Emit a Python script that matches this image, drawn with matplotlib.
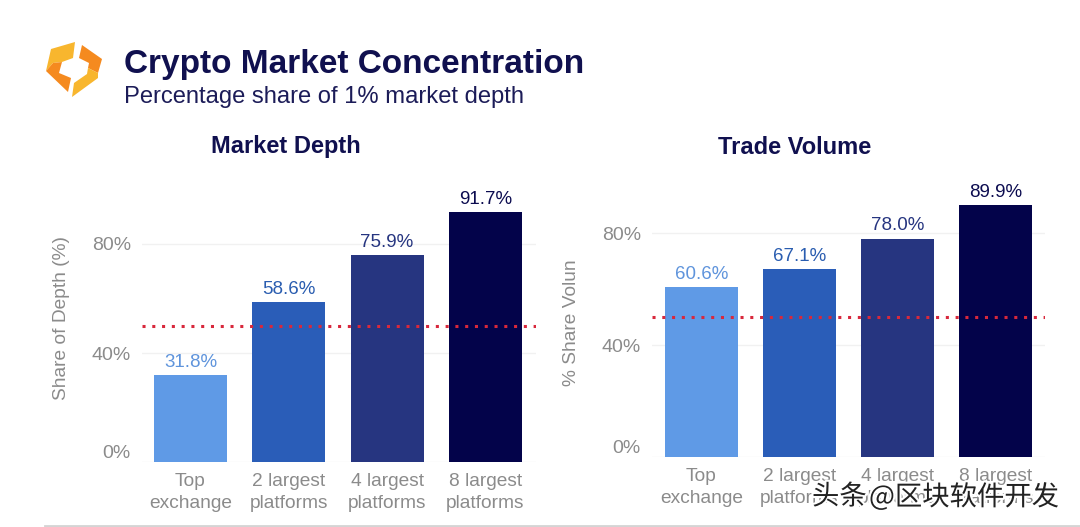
import matplotlib
matplotlib.use('Agg')
import matplotlib.pyplot as plt
import matplotlib.patheffects as pe
from matplotlib.patches import Polygon

W, H = 1080, 527
plt.rcParams['font.family'] = ['Liberation Sans', 'DejaVu Sans']

categories = ['Top\nexchange', '2 largest\nplatforms', '4 largest\nplatforms', '8 largest\nplatforms']
depth_values = [31.8, 58.6, 75.9, 91.7]
volume_values = [60.6, 67.1, 78.0, 89.9]
bar_colors = ['#5f9ae6', '#2a5db8', '#263580', '#03034a']
label_colors = ['#5f94dc', '#2a5db0', '#263580', '#0c0c50']
y_ticks = [0, 40, 80]
threshold = 50

NAVY = '#10104f'
GRAY = '#8b8b8b'
RED = '#d8283c'


def panel(left, right, base, top, px_per_pct, bar_left, step, bar_w, values, title, title_x, ylabel, ylabel_x, ylabel_y):
    # axes placed in pixels, one x unit = one bar step
    ax = fig.add_axes([left / W, 1 - base / H, (right - left) / W, (base - top) / H])
    ax.set_ylim(0, (base - top) / px_per_pct)
    x0 = (bar_left + bar_w / 2 - left) / step
    ax.set_xlim(-x0, (right - left) / step - x0)
    xs = list(range(len(values)))
    ax.bar(xs, values, width=bar_w / step, color=bar_colors, zorder=2)
    for x, v, c in zip(xs, values, label_colors):
        ax.annotate(f'{v:.1f}%', (x, v), xytext=(0, 3), textcoords='offset points',
                    ha='center', va='bottom', fontsize=13.5, color=c)
    ax.axhline(threshold, color=RED, linestyle=(0, (1, 2.2)), linewidth=2.2, zorder=3)
    ax.set_yticks(y_ticks)
    ax.set_yticklabels([f'{t}%' for t in y_ticks], fontsize=14, color=GRAY)
    ax.get_yticklabels()[0].set_va('bottom')
    ax.set_xticks(xs)
    ax.set_xticklabels(categories, fontsize=13.8, color=GRAY, linespacing=1.35)
    ax.tick_params(axis='y', length=0, pad=8)
    ax.tick_params(axis='x', length=0, pad=8)
    ax.grid(axis='y', color='#f1f1f1', linewidth=1, zorder=0)
    for s in ax.spines.values():
        s.set_visible(False)
    fig.text(title_x / W, 1 - 147 / H, title, ha='center', va='center',
             fontsize=17, fontweight='bold', color=NAVY)
    fig.text(ylabel_x / W, 1 - ylabel_y / H, ylabel, rotation=90, ha='center', va='center',
             fontsize=13.8, color=GRAY)
    return ax


fig = plt.figure(figsize=(W / 100, H / 100), dpi=100)

panel(142, 536, 462, 180, 2.725, 154, 98.3, 73, depth_values, 'Market Depth', 286, 'Share of Depth (%)', 62, 318)
panel(652, 1045, 457, 175, 2.80, 665, 98.0, 73, volume_values, 'Trade Volume', 795, '% Share Volun', 572, 323)

# overlay in pixel coordinates for logo, header and the bottom rule
ov = fig.add_axes([0, 0, 1, 1], zorder=5)
ov.set_xlim(0, W)
ov.set_ylim(H, 0)
ov.axis('off')
ov.patch.set_alpha(0)

YELLOW = '#f8b62e'
ORANGE = '#f58a1f'
ov.add_patch(Polygon([(75, 42), (51, 49), (46, 71), (53, 63), (62, 62), (73, 58)], color=YELLOW, lw=0))
ov.add_patch(Polygon([(46, 71), (53, 63), (62, 62), (59, 73), (71, 78), (68, 92)], color=ORANGE, lw=0))
ov.add_patch(Polygon([(82, 45), (102, 59), (98, 73), (88, 68), (89, 63), (79, 58)], color=ORANGE, lw=0))
ov.add_patch(Polygon([(98, 73), (98, 78), (72, 97), (74, 83), (87, 74), (88, 68)], color=YELLOW, lw=0))

ov.text(124, 64, 'Crypto Market Concentration', fontsize=24, fontweight='bold', color=NAVY, va='center')
ov.text(124, 97, 'Percentage share of 1% market depth', fontsize=17.1, color='#1c1c58', va='center')
ov.plot([45, W], [526, 526], color='#d4d4d4', linewidth=2)

ov.text(812, 497, '头条', fontsize=19.7, color='#222222', va='center',
        family=['Noto Sans CJK SC', 'DejaVu Sans'],
        path_effects=[pe.withStroke(linewidth=3, foreground='white')])
ov.text(869, 497, '@区块软件开发', fontsize=19.7, color='#222222', va='center',
        family=['Noto Sans CJK SC', 'DejaVu Sans'],
        path_effects=[pe.withStroke(linewidth=3, foreground='white')])

fig.savefig('out.png', dpi=100)
